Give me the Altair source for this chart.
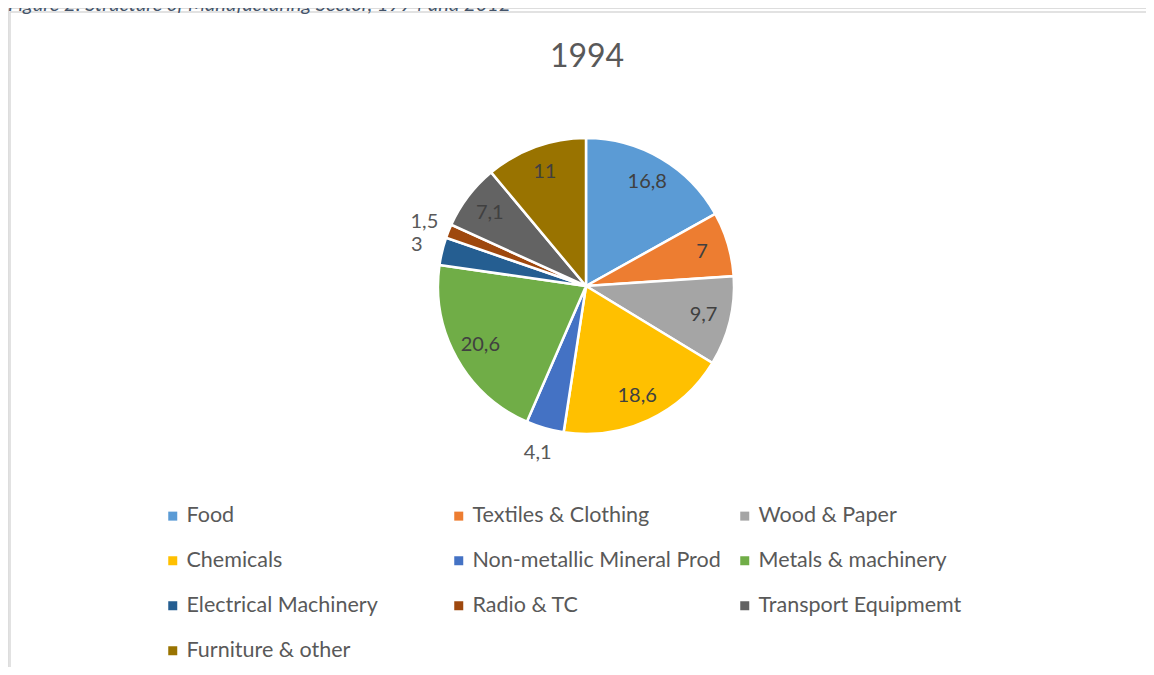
import altair as alt
import pandas as pd

categories = ["Food", "Textiles & Clothing", "Wood & Paper", "Chemicals",
              "Non-metallic Mineral Prod", "Metals & machinery",
              "Electrical Machinery", "Radio & TC", "Transport Equipmemt",
              "Furniture & other"]
values = [16.8, 7, 9.7, 18.6, 4.1, 20.6, 3, 1.5, 7.1, 11]
colors = ["#5B9BD5", "#ED7D31", "#A5A5A5", "#FFC000", "#4472C4",
          "#70AD47", "#255E91", "#9E480E", "#636363", "#997300"]
title_text = "1994"
caption_text = "Figure 2: Structure of Manufacturing Sector, 1994 and 2012"

df = pd.DataFrame({"category": categories, "value": values,
                   "idx": list(range(len(categories)))})

FONT = "Lato"
CX, CY = 578, 278

base = alt.Chart(df).transform_calculate(
    lab="replace(toString(datum.value), '.', ',')"
).transform_calculate(
    lab_in="datum.value >= 5 ? datum.lab : ''",
    lab_out="datum.value < 5 ? datum.lab : ''",
).encode(
    theta=alt.Theta("value:Q", stack=True),
    order=alt.Order("idx:Q", sort="ascending"),
    x=alt.value(CX),
    y=alt.value(CY),
)

pie = base.mark_arc(radius=148, stroke="white", strokeWidth=2.5).encode(
    color=alt.Color(
        "category:N",
        sort=categories,
        scale=alt.Scale(domain=categories, range=colors),
        legend=alt.Legend(
            title=None, orient="none", legendX=154, legendY=497,
            direction="horizontal",
            columns=3, gridAlign="all", columnPadding=13, rowPadding=22,
            symbolType="square", symbolSize=81, symbolStrokeWidth=0,
            labelFont=FONT, labelFontSize=21.5, labelColor="#595959",
            labelOffset=3, labelLimit=400, padding=0,
        ),
    )
)

inside = base.mark_text(radius=121, font=FONT, fontSize=20, color="#404040").encode(
    text="lab_in:N", detail="category:N"
)
outside = base.mark_text(radius=174, font=FONT, fontSize=20, color="#595959").encode(
    text="lab_out:N", detail="category:N"
)

one = pd.DataFrame({"t": [title_text], "c": [caption_text]})

frame = alt.Chart(one).mark_rect(fill=None, stroke="#D9D9D9", strokeWidth=1.5).encode(
    x=alt.value(2), x2=alt.value(1300), y=alt.value(4), y2=alt.value(800)
)

title = alt.Chart(one).mark_text(font=FONT, fontSize=32, color="#595959",
                                 align="center", baseline="alphabetic").encode(
    text="t:N", x=alt.value(579), y=alt.value(59)
)

caption = alt.Chart(one).mark_text(font=FONT, fontSize=20, fontStyle="italic",
                                   color="#44546A", align="left",
                                   baseline="alphabetic").encode(
    text="c:N", x=alt.value(0), y=alt.value(2.5)
)

chart = alt.layer(frame, caption, title, pie, inside, outside).properties(
    width=1138, height=659, autosize=alt.AutoSizeParams(type="none"), padding=0
).configure_view(stroke=None).configure(background="white")

chart.save("out.html", embed_options={"renderer": "svg", "actions": False})
